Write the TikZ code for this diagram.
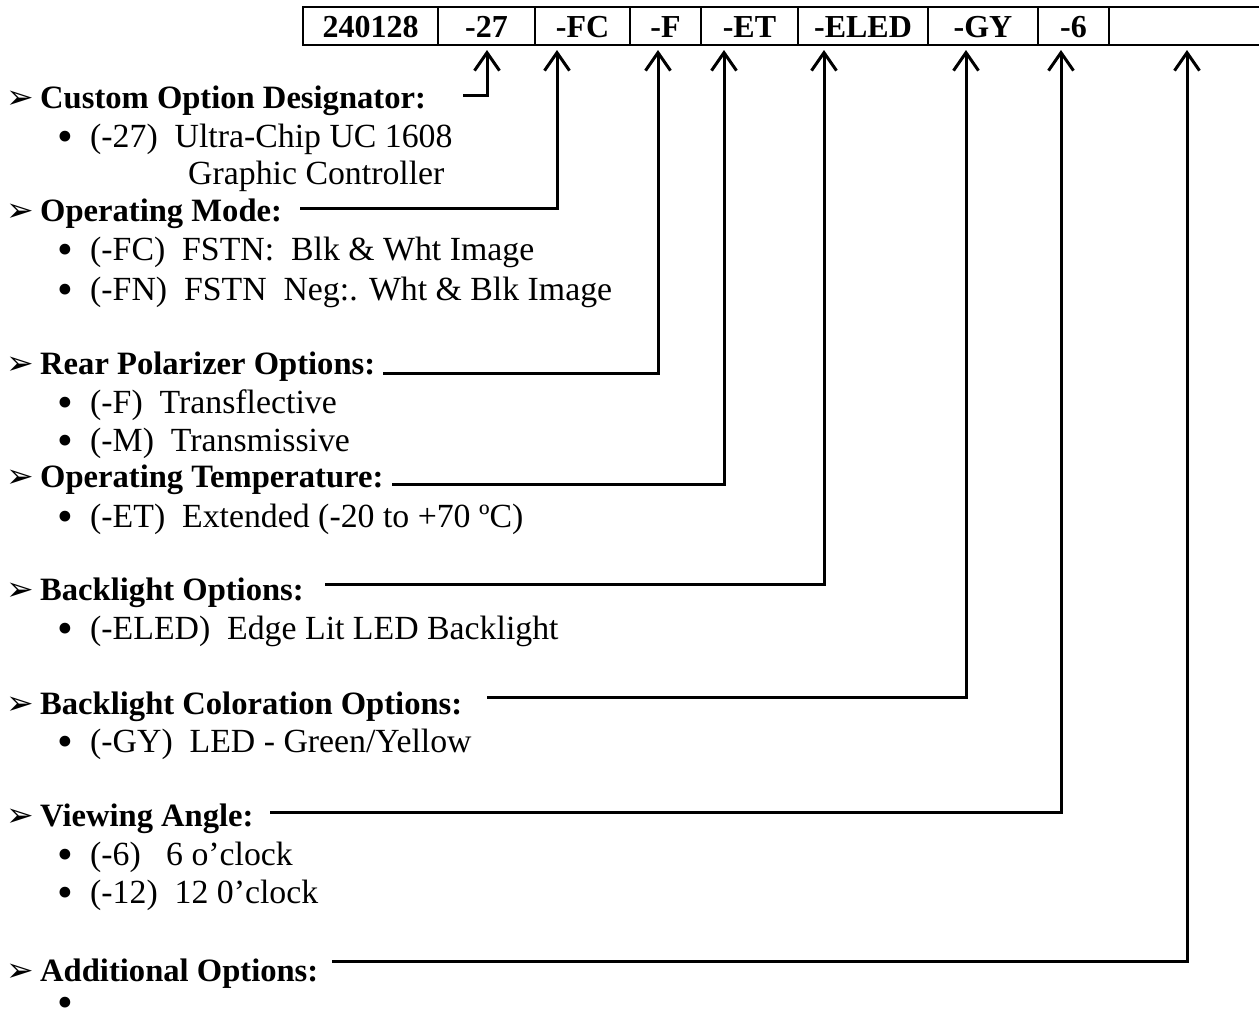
\documentclass[tikz,border=0pt]{standalone}
\usepackage{fontspec}
\setmainfont{Liberation Serif}
\newfontfamily\dingfont{DejaVu Sans}
\usetikzlibrary{arrows.meta,positioning}
\newcommand{\pointer}{\makebox[34pt][l]{\dingfont\fontsize{33}{30}\selectfont ➢}}
\newcommand{\itembullet}{\makebox[33pt][l]{\smash{\raisebox{-4pt}{\scalebox{1.33}{•}}}}}

\begin{document}
\begin{tikzpicture}[x=1pt, y=-1pt,
  cell/.style={draw, line width=1.5pt, outer sep=0pt, inner sep=0pt,
               minimum height=38pt, text height=22pt, text depth=0pt,
               font=\fontsize{32}{38}\selectfont\bfseries},
  head/.style={anchor=base west, inner sep=0pt,
               font=\fontsize{32.6}{40}\selectfont\bfseries},
  item/.style={anchor=base west, inner sep=0pt,
               font=\fontsize{33.8}{40}\selectfont},
  arr/.style={-{Straight Barb[length=18pt,width=25pt]}, line width=3pt}]
  \useasboundingbox (0,0) rectangle (1259,1015);

  % part number boxes
  \node[cell, minimum width=135pt, anchor=north west] (cBase) at (303,7) {240128};
  \node[cell, minimum width=97pt, right=0pt of cBase] (c27) {-27};
  \node[cell, minimum width=95pt, right=0pt of c27] (cFC) {-FC};
  \node[cell, minimum width=71pt, right=0pt of cFC] (cF) {-F};
  \node[cell, minimum width=97pt, right=0pt of cF] (cET) {-ET};
  \node[cell, minimum width=130pt, right=0pt of cET] (cELED) {-ELED};
  \node[cell, minimum width=110pt, right=0pt of cELED] (cGY) {-GY};
  \node[cell, minimum width=71pt, right=0pt of cGY] (c6) {-6};
  \node[cell, minimum width=160pt, right=0pt of c6] (cAdd) {};

  % option headings
  \node[head] (hCustom) at (6,108) {\pointer Custom Option Designator:};
  \node[head] (hMode) at (6,221) {\pointer Operating Mode:};
  \node[head] (hRear) at (6,374) {\pointer Rear Polarizer Options:};
  \node[head] (hTemp) at (6,487) {\pointer Operating Temperature:};
  \node[head] (hLight) at (6,600) {\pointer Backlight Options:};
  \node[head] (hColor) at (6,714) {\pointer Backlight Coloration Options:};
  \node[head] (hView) at (6,826) {\pointer Viewing Angle:};
  \node[head] (hAdd) at (6,981) {\pointer Additional Options:};

  % option values
  \node[item] (i27) at (57,147) {\itembullet(-27)\ \ Ultra-Chip UC 1608};
  \node[item] (i27b) at (188,184) {Graphic Controller};
  \node[item] (iFC) at (57,260) {\itembullet(-FC)\ \ FSTN:\ \ Blk \& Wht Image};
  \node[item] (iFN) at (57,300) {\itembullet(-FN)\ \ FSTN\ \ Neg:. Wht \& Blk Image};
  \node[item] (iF) at (57,413) {\itembullet(-F)\ \ Transflective};
  \node[item] (iM) at (57,451) {\itembullet(-M)\ \ Transmissive};
  \node[item] (iET) at (57,527) {\itembullet(-ET)\ \ Extended (-20 to +70 ºC)};
  \node[item] (iELED) at (57,639) {\itembullet(-ELED)\ \ Edge Lit LED Backlight};
  \node[item] (iGY) at (57,752) {\itembullet(-GY)\ \ LED - Green/Yellow};
  \node[item] (i6) at (57,865) {\itembullet(-6)\ \ \ 6 o’clock};
  \node[item] (i12) at (57,903) {\itembullet(-12)\ \ 12 0’clock};
  \node[item] (iAdd) at (57,1013) {\itembullet};

  % leader line starts and arrow tips
  \coordinate (s27) at (463,95);   \coordinate (t27) at (487,50);
  \coordinate (sFC) at (300,208);  \coordinate (tFC) at (557,50);
  \coordinate (sF) at (383,373);   \coordinate (tF) at (658,50);
  \coordinate (sET) at (392,484);  \coordinate (tET) at (724,50);
  \coordinate (sELED) at (325,584); \coordinate (tELED) at (824,50);
  \coordinate (sGY) at (487,697);  \coordinate (tGY) at (966,50);
  \coordinate (s6) at (270,812);   \coordinate (t6) at (1061,50);
  \coordinate (sAdd) at (332,961); \coordinate (tAdd) at (1187,50);

  \draw[arr] (s27) -| (t27);
  \draw[arr] (sFC) -| (tFC);
  \draw[arr] (sF) -| (tF);
  \draw[arr] (sET) -| (tET);
  \draw[arr] (sELED) -| (tELED);
  \draw[arr] (sGY) -| (tGY);
  \draw[arr] (s6) -| (t6);
  \draw[arr] (sAdd) -| (tAdd);
\end{tikzpicture}
\end{document}
